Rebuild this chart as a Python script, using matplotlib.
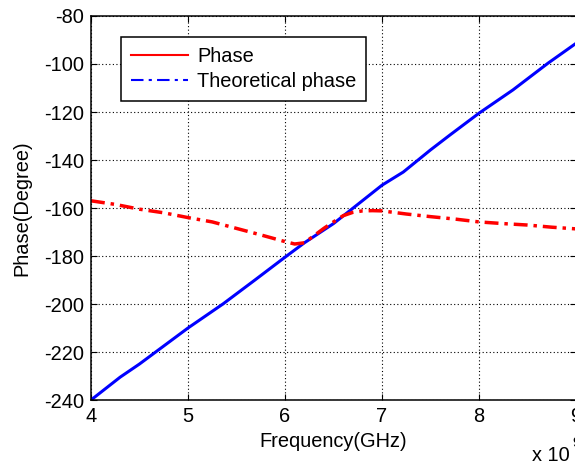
import matplotlib
matplotlib.use("Agg")
import matplotlib.pyplot as plt
from matplotlib.lines import Line2D

plt.rcParams['font.family'] = ['Liberation Sans', 'DejaVu Sans']

# Data (frequency in GHz, plotted with "x 10^9" scale note)
freq_theory = [4.0, 4.3, 4.5, 5.0, 5.36, 5.69, 6.0, 6.2, 6.5, 7.0, 7.22, 7.5, 7.7,
               8.0, 8.35, 8.71, 9.0]
phase_theory = [-240, -230.5, -225, -210, -200, -190, -180.5, -174.5, -166.5, -150.5,
                -145, -135.8, -129.6, -120.5, -110.8, -99.7, -91.4]

freq_meas = [4.0, 4.25, 4.5, 4.75, 5.0, 5.25, 5.5, 5.75, 6.0, 6.1, 6.2, 6.3, 6.4,
             6.5, 6.6, 6.7, 6.8, 6.9, 7.0, 7.25, 7.5, 7.75, 8.0, 8.25, 8.5, 8.75, 9.0]
phase_meas = [-157, -158.5, -160.5, -162, -164, -165.8, -168.5, -171.2, -174, -175,
              -174.5, -171.5, -168.5, -165.8, -163.2, -161.8, -161.2, -161.1, -161.2,
              -162.5, -163.6, -164.6, -165.8, -166.5, -167.1, -168, -168.7]

xticks = [4, 5, 6, 7, 8, 9]
yticks = [-240, -220, -200, -180, -160, -140, -120, -100, -80]
legend_labels = ['Phase', 'Theoretical phase']

W, H = 575, 465
fig = plt.figure(figsize=(W / 100, H / 100), dpi=100)
ax = fig.add_axes([91 / W, (H - 400) / H, 485 / W, 384 / H])

ax.plot(freq_theory, phase_theory, color='#0000ff', lw=2.2, solid_capstyle='round')
ax.plot(freq_meas, phase_meas, color='#ff0000', lw=2.5,
        linestyle=(0, (4, 1.7, 1, 1.7)), dash_capstyle='butt')

ax.set_xlim(4, 9)
ax.set_ylim(-240, -80)
ax.set_xticks(xticks)
ax.set_yticks(yticks)
ax.set_xticklabels([str(t) for t in xticks])
ax.set_yticklabels([str(t) for t in yticks])
ax.tick_params(direction='in', length=4, width=0.8, top=True, right=True,
               labelsize=14.4, pad=5, colors='black')
ax.grid(True, color='black', linestyle=(0, (1, 2.2)), linewidth=0.8)
for s in ax.spines.values():
    s.set_linewidth(1.1)
    s.set_color('black')

ax.set_xlabel('Frequency(GHz)', fontsize=14.4, labelpad=4)
ax.set_ylabel('Phase(Degree)', fontsize=14.4, labelpad=9)

fig.text(532 / W, 1 - 461 / H, 'x 10', fontsize=14.4, ha='left', va='baseline')
fig.text(572 / W, 1 - 447 / H, '9', fontsize=10.5, ha='left', va='baseline')

handles = [Line2D([0], [0], color='#ff0000', lw=1.5),
           Line2D([0], [0], color='#0000ff', lw=1.5, linestyle=(0, (6, 2.5, 1.5, 2.5)))]
leg = ax.legend(handles, legend_labels, loc='upper left',
                bbox_to_anchor=(121 / W, 1 - 37 / H), bbox_transform=fig.transFigure,
                borderaxespad=0, fontsize=14.4, handlelength=2.85, handletextpad=0.45,
                borderpad=0.5, labelspacing=0.28, fancybox=False, framealpha=1,
                edgecolor='black')
leg.get_frame().set_linewidth(1.1)

fig.savefig('out.png', dpi=100)
